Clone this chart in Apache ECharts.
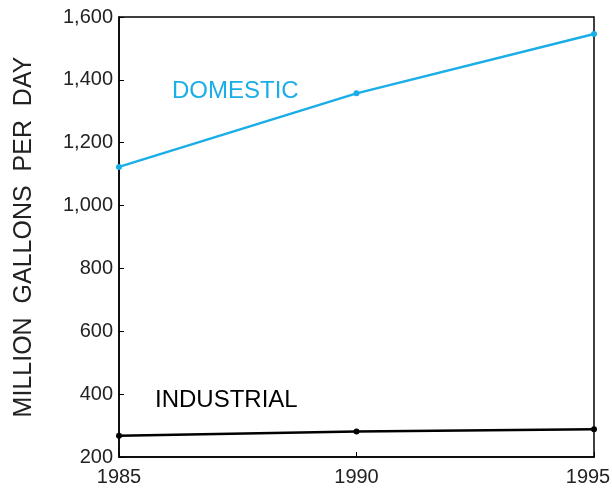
<!DOCTYPE html>
<html>
<head>
<meta charset="utf-8">
<script src="https://cdn.jsdelivr.net/npm/echarts@6/dist/echarts.min.js"></script>
<style>html,body{margin:0;padding:0;background:#fff}#c{width:612px;height:488px}</style>
</head>
<body>
<div id="c"></div>
<script>
const years = [1985, 1990, 1995];
const domestic = [1123, 1357, 1546];
const industrial = [268, 281, 288];
const yTicks = [200, 400, 600, 800, 1000, 1200, 1400, 1600];

const chart = echarts.init(document.getElementById('c'), null, {renderer: 'canvas'});
const font = 'Liberation Sans, Arial, sans-serif';
chart.setOption({
  animation: false,
  grid: {left: 119, right: 18, top: 17, bottom: 31, show: true, borderColor: '#000', borderWidth: 1.5,
         containLabel: false, outerBoundsMode: 'none'},
  xAxis: {
    type: 'value', min: 1985, max: 1995, interval: 5,
    axisLine: {show: true, lineStyle: {color: '#000', width: 1.5}},
    axisTick: {show: true, inside: true, length: 5, lineStyle: {color: '#000'}},
    axisLabel: {color: '#222', fontSize: 20, fontFamily: font, margin: 10,
      formatter: v => v === years[years.length - 1] ? '{r|' + v + '}' : String(v),
      rich: {r: {color: '#222', fontSize: 20, fontFamily: font, padding: [0, 12, 0, 0]}}},
    splitLine: {show: false}
  },
  yAxis: {
    type: 'value', min: yTicks[0], max: yTicks[yTicks.length - 1], interval: 200,
    name: 'MILLION  GALLONS  PER  DAY', nameLocation: 'middle', nameGap: 82,
    nameTextStyle: {color: '#222', fontSize: 25, fontFamily: font},
    axisLine: {show: true, lineStyle: {color: '#000', width: 1.5}},
    axisTick: {show: true, inside: true, length: 5, lineStyle: {color: '#000'}},
    axisLabel: {color: '#222', fontSize: 20, fontFamily: font, margin: 6},
    splitLine: {show: false}
  },
  series: [
    {type: 'line', data: years.map((y, i) => [y, domestic[i]]), symbol: 'circle', symbolSize: 6,
     lineStyle: {color: '#1aaee8', width: 2.5}, itemStyle: {color: '#1aaee8'}},
    {type: 'line', data: years.map((y, i) => [y, industrial[i]]), symbol: 'circle', symbolSize: 6,
     lineStyle: {color: '#000', width: 2.5}, itemStyle: {color: '#000'}}
  ],
  graphic: [
    {type: 'text', left: 172, top: 79, style: {text: 'DOMESTIC', fill: '#1aaee8', font: '24px ' + font}},
    {type: 'text', left: 155, top: 388, style: {text: 'INDUSTRIAL', fill: '#000', font: '24px ' + font}}
  ]
});
</script>
</body>
</html>
